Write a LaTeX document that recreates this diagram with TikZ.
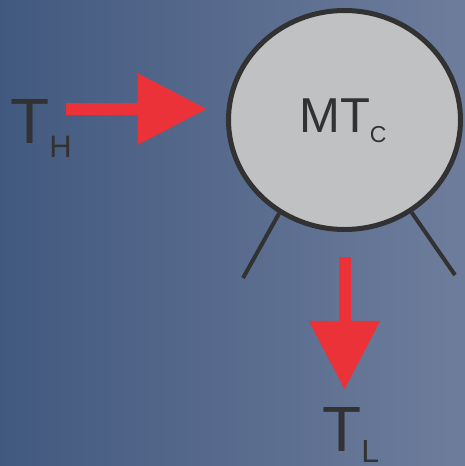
\documentclass[tikz,border=0pt]{standalone}
\usepackage{fontspec}
\setmainfont{Liberation Sans}
\usepackage{xcolor}
\usetikzlibrary{positioning,arrows.meta,shapes.geometric}
\definecolor{bgleft}{RGB}{66,89,127}
\definecolor{bgright}{RGB}{110,125,156}
\definecolor{heatred}{RGB}{234,50,56}
\definecolor{ink}{RGB}{50,50,50}
\definecolor{bodygray}{RGB}{192,193,195}
\newcommand{\lowsub}[3]{\raisebox{-#1}{\fontsize{#2}{#2}\selectfont #3}}

\begin{document}
\begin{tikzpicture}[
  x=1pt, y=-1pt,
  body/.style={ellipse, draw=ink, line width=5pt, fill=bodygray, inner sep=0pt, minimum width=232pt, minimum height=219pt},
  leg/.style={draw=ink, line width=4pt},
  flow/.style={draw=heatred, line width=12pt, -{Triangle[width=68pt,length=69pt]}},
  sym/.style={text=ink, inner sep=0pt, anchor=base west},
  big/.style={font=\fontsize{64}{64}\selectfont},
]
\useasboundingbox (0,0) rectangle (465,466);
\shade[left color=bgleft, right color=bgright] (0,0) rectangle (465,466);
% machine
\node[body] (mtc) at (344.5,120) {};
\node[sym, font=\fontsize{49}{49}\selectfont] (mtclbl) at (299,132) {MT\lowsub{10pt}{23}{C}};
\coordinate (legl) at (243,278);
\coordinate (legr) at (455,275);
\draw[leg] (mtc.-125) -- (legl);
\draw[leg] (mtc.-54) -- (legr);
% reservoirs
\node[sym, big] (th) at (10,143) {T\lowsub{14pt}{31}{H}};
\node[sym, big] (tl) at (322,451) {T\lowsub{11pt}{32}{L}};
\coordinate (hin) at (66,109);
\draw[flow, shorten >=19pt] (hin) -- (hin -| mtc.west);
\draw[flow, shorten <=25pt, shorten >=17pt] (mtc.south) -- (mtc.south |- tl.north);
\end{tikzpicture}
\end{document}
